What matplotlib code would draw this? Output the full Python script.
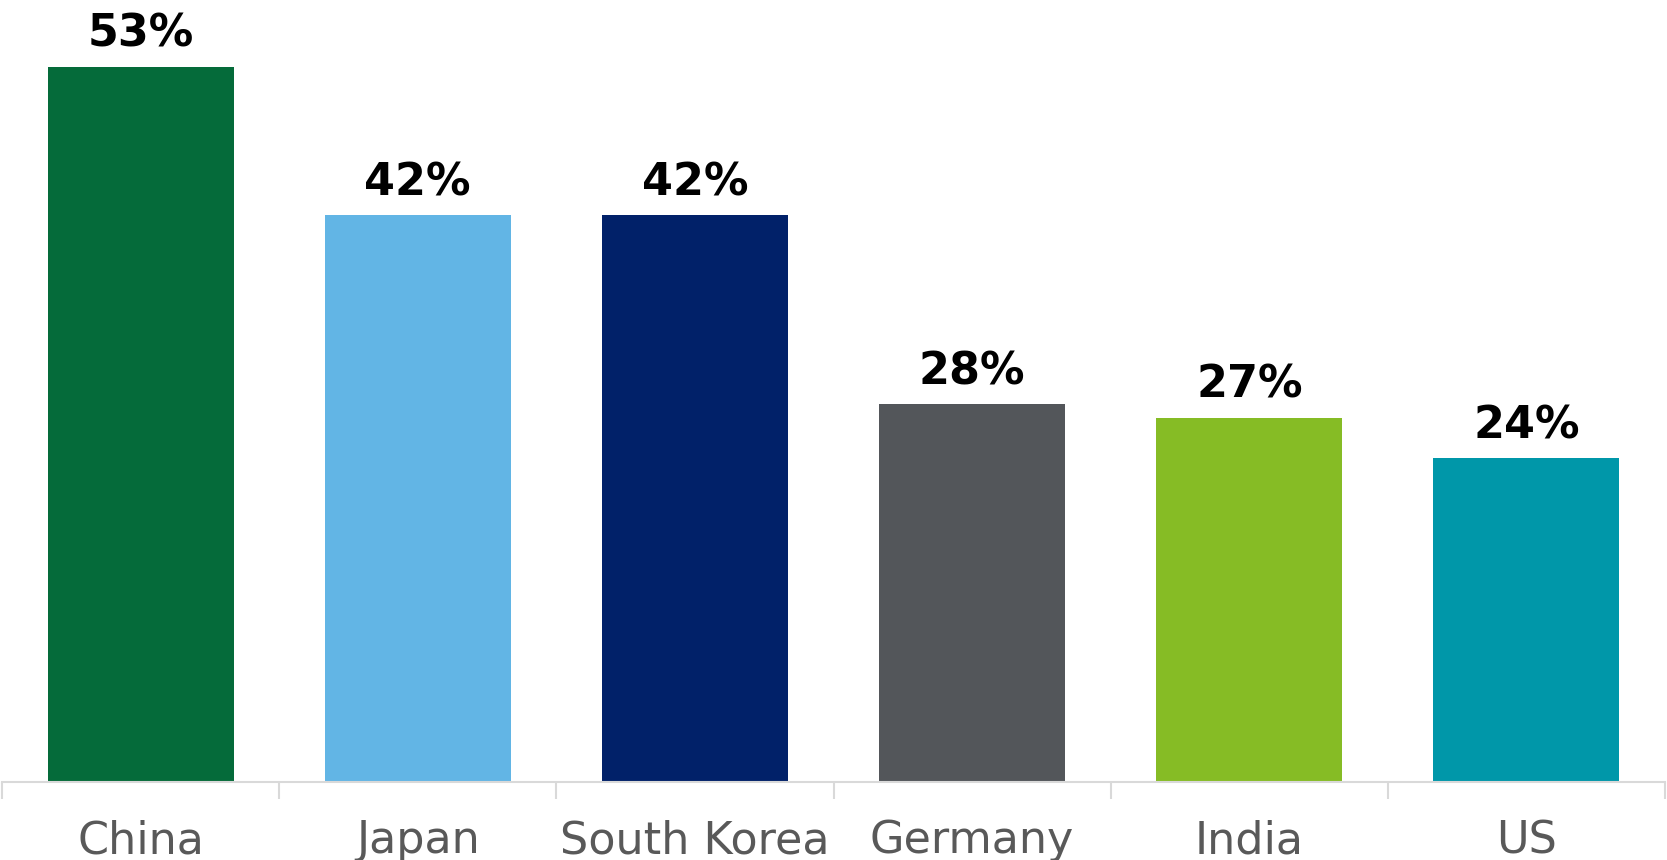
import matplotlib.pyplot as plt
import numpy as np

countries = ["China", "Japan", "South Korea", "Germany", "India", "US"]
shares = [53, 42, 42, 28, 27, 24]
colors = ["#056B3A", "#62B5E5", "#012169", "#53565A", "#86BC25", "#0097A9"]

plt.rcParams['font.family'] = ['DejaVu Sans']

fig = plt.figure(figsize=(16.67, 8.6), dpi=100)
ax = fig.add_axes([2 / 1667, 78 / 860, 1663 / 1667, 782 / 860])

x = np.arange(len(countries))
bars = ax.bar(x, shares, width=0.671, color=colors)

# value labels above each bar
for xi, v in zip(x, shares):
    ax.annotate("%d%%" % v, (xi, v), xytext=(0, 8), textcoords='offset points',
                ha='center', va='bottom', fontsize=32, fontweight='bold', color='black')

ax.set_xlim(-0.5, len(countries) - 0.5)
ax.set_ylim(0, 782 / 13.49)

for side in ['top', 'right', 'left']:
    ax.spines[side].set_visible(False)
ax.spines['bottom'].set_color('#D9D9D9')
ax.spines['bottom'].set_linewidth(1.5)
ax.set_yticks([])

# category labels centred, separator ticks between categories
ax.set_xticks(x)
ax.set_xticklabels(countries, fontsize=32, color='#595959')
ax.tick_params(axis='x', which='major', length=0, pad=27)
ax.set_xticks(np.arange(-0.5, len(countries)), minor=True)
ax.tick_params(axis='x', which='minor', length=12, width=1.5, color='#D9D9D9')

plt.savefig("out.png", dpi=100)
